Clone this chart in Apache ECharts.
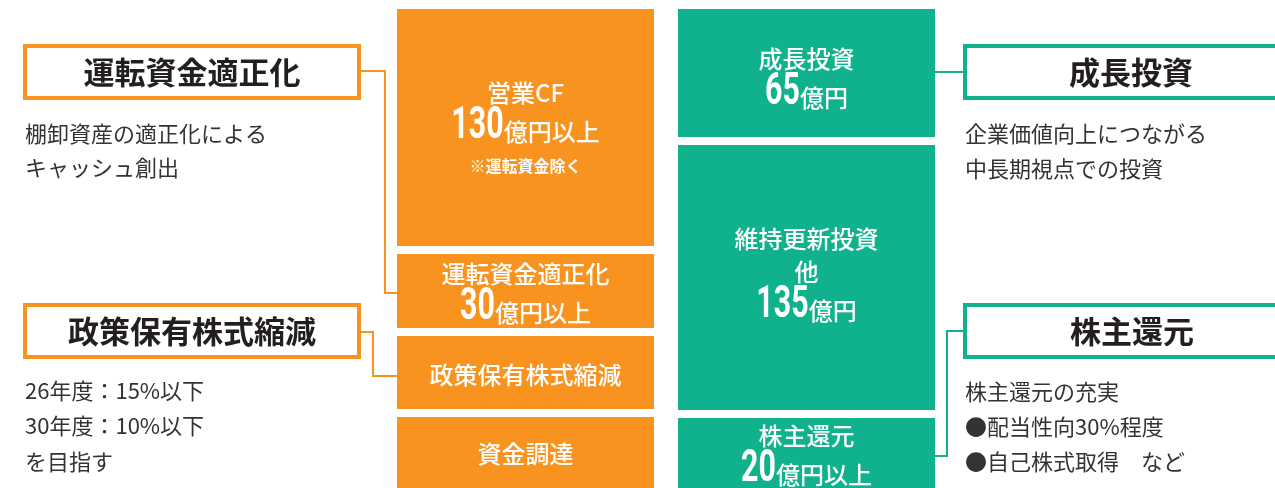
<!DOCTYPE html>
<html>
<head>
<meta charset="utf-8">
<script src="https://cdn.jsdelivr.net/npm/echarts@6/dist/echarts.min.js"></script>
<style>
html,body{margin:0;padding:0;background:#fff;}
#chart{width:1275px;height:488px;}
</style>
</head>
<body>
<div id="chart"></div>
<script>
// ---- data ----
const columns = ['資金創出', '資金配分'];

// left column (top -> bottom)
const leftNames   = ['営業CF', '運転資金適正化', '政策保有株式縮減', '資金調達'];
const leftSizes   = [245, 82, 81, 79];          // relative block sizes
const leftAmounts = [130, 30, null, null];      // 億円
const leftUnits   = ['億円以上', '億円以上', '', ''];
const leftNotes   = ['※運転資金除く', '', '', ''];

// right column (top -> bottom)
const rightNames   = ['成長投資', '維持更新投資\n他', '株主還元'];
const rightSizes   = [136, 273, 78];
const rightAmounts = [65, 135, 20];
const rightUnits   = ['億円', '億円', '億円以上'];
const rightNotes   = ['', '', ''];

// side boxes
const leftBoxTitles  = ['運転資金適正化', '政策保有株式縮減'];
const leftBoxTexts   = [['棚卸資産の適正化による', 'キャッシュ創出'], ['26年度：15%以下', '30年度：10%以下', 'を目指す']];
const rightBoxTitles = ['成長投資', '株主還元'];
const rightBoxTexts  = [['企業価値向上につながる', '中長期視点での投資'], ['株主還元の充実', '●配当性向30%程度', '●自己株式取得　など']];

// ---- styling / layout ----
const ORANGE = '#F7931E';
const GREEN = '#0FB28C';
const DARK = '#231F20';
const JP = "'Noto Sans CJK JP', 'Noto Sans', sans-serif";
const BAR_W = 257;
const GAP = 8;
const F_TITLE = '500 24px ' + JP;
const F_UNIT = '500 24px ' + JP;
const F_NOTE = 'bold 16px ' + JP;
const F_NUM = "bold 44px Roboto, 'Liberation Sans', sans-serif";
const NUM_SCALE = 0.69;
const labelOffsets = [[2, 0, 2, 1], [3, -5, 0]];

const mctx = document.createElement('canvas').getContext('2d');
function textWidth(text, font) { mctx.font = font; return mctx.measureText(text).width; }

function buildBlocks(names, sizes, amounts, units, notes) {
  const total = sizes.reduce((a, b) => a + b, 0);
  let top = total;
  return names.map((n, i) => {
    const b = { name: n, amount: amounts[i], unit: units[i], note: notes[i], top: top, base: top - sizes[i] };
    top -= sizes[i];
    return b;
  });
}
const blocks = [
  buildBlocks(leftNames, leftSizes, leftAmounts, leftUnits, leftNotes),
  buildBlocks(rightNames, rightSizes, rightAmounts, rightUnits, rightNotes)
];
const colColors = [ORANGE, GREEN];
const total = Math.max(leftSizes.reduce((a, b) => a + b, 0), rightSizes.reduce((a, b) => a + b, 0));

function renderItem(params, api) {
  const col = api.value(0), base = api.value(1), top = api.value(2), bi = api.value(3);
  const pTop = api.coord([col, top]);
  const pBase = api.coord([col, base]);
  const cx = pTop[0];
  const y0 = pTop[1] + GAP / 2, y1 = pBase[1] - GAP / 2;
  const blk = blocks[col][bi];
  const children = [{
    type: 'rect',
    shape: { x: cx - BAR_W / 2, y: y0, width: BAR_W, height: y1 - y0 },
    style: { fill: colColors[col] }
  }];
  // label lines
  const lines = [];
  blk.name.split('\n').forEach(t => lines.push({ kind: 't', text: t }));
  if (blk.amount != null) lines.push({ kind: 'n' });
  if (blk.note) lines.push({ kind: 's', text: blk.note });
  const ys = [0];
  for (let i = 1; i < lines.length; i++) {
    const cur = lines[i].kind;
    let d = 33;
    if (cur === 'n') d = 34;
    if (cur === 's') d = 39.5;
    ys.push(ys[i - 1] + d);
  }
  const mid = (ys[0] + ys[ys.length - 1]) / 2;
  const cy = (y0 + y1) / 2 + labelOffsets[col][bi];
  lines.forEach((ln, i) => {
    const y = cy + ys[i] - mid;
    if (ln.kind === 'n') {
      const numStr = String(blk.amount);
      const wn = textWidth(numStr, F_NUM) * NUM_SCALE;
      const wu = textWidth(blk.unit, F_UNIT);
      const x0 = cx - (wn + wu) / 2;
      children.push({ type: 'text', x: x0, y: y, scaleX: NUM_SCALE,
        style: { text: numStr, font: F_NUM, fill: '#fff', align: 'left', verticalAlign: 'middle' } });
      children.push({ type: 'text', x: x0 + wn, y: y + 5,
        style: { text: blk.unit, font: F_UNIT, fill: '#fff', align: 'left', verticalAlign: 'middle' } });
    } else {
      children.push({ type: 'text', x: cx, y: y,
        style: { text: ln.text, font: ln.kind === 's' ? F_NOTE : F_TITLE, fill: '#fff', align: 'center', verticalAlign: 'middle' } });
    }
  });
  return { type: 'group', children: children };
}

const series = blocks.map((col, ci) => ({
  type: 'custom',
  name: columns[ci],
  renderItem: renderItem,
  encode: { x: 0, y: [1, 2] },
  data: col.map((b, bi) => [ci, b.base, b.top, bi]),
  silent: true,
  animation: false
}));

// ---- graphics (boxes, connectors, texts) ----
const graphic = [];
function box(x, y, w, h, color) {
  graphic.push({ type: 'rect', shape: { x: x, y: y, width: w, height: h }, style: { fill: '#fff', stroke: color, lineWidth: 4 }, z: 10 });
}
function title(text, x, y) {
  graphic.push({ type: 'text', x: x, y: y, style: { text: text, fill: DARK, font: 'bold 31px ' + JP, align: 'center', verticalAlign: 'middle' }, z: 11 });
}
function body(lines, x, ys) {
  lines.forEach((l, i) => graphic.push({ type: 'text', x: x, y: ys[i], style: { text: l, fill: '#333', font: '22px ' + JP, align: 'left', verticalAlign: 'middle' }, z: 11 }));
}
function conn(points, color) {
  graphic.push({ type: 'polyline', shape: { points: points }, style: { stroke: color, lineWidth: 2, fill: null }, z: 9 });
}

conn([[361, 71], [385, 71], [385, 293], [397, 293]], ORANGE);
conn([[361, 332], [373, 332], [373, 376], [397, 376]], ORANGE);
conn([[935, 72], [965, 72]], GREEN);
conn([[965, 331], [947, 331], [947, 456], [935, 456]], GREEN);

box(25, 46, 334, 52, ORANGE);
box(25, 305, 334, 52, ORANGE);
box(965, 46, 340, 52, GREEN);
box(965, 305, 340, 52, GREEN);

title(leftBoxTitles[0], 192, 72);
title(leftBoxTitles[1], 192, 331);
title(rightBoxTitles[0], 1131, 72);
title(rightBoxTitles[1], 1132, 331);

body(leftBoxTexts[0], 25, [134, 168]);
body(leftBoxTexts[1], 25, [391, 426, 462]);
body(rightBoxTexts[0], 965, [134, 169]);
body(rightBoxTexts[1], 965, [392, 427, 462]);

const chart = echarts.init(document.getElementById('chart'), null, { renderer: 'canvas' });
chart.setOption({
  animation: false,
  backgroundColor: '#fff',
  grid: { left: 385, width: 562, top: 5, height: total, outerBoundsMode: 'none', containLabel: false },
  xAxis: { type: 'category', data: columns, show: false },
  yAxis: { type: 'value', min: 0, max: total, show: false },
  series: series,
  graphic: graphic
});
</script>
</body>
</html>
